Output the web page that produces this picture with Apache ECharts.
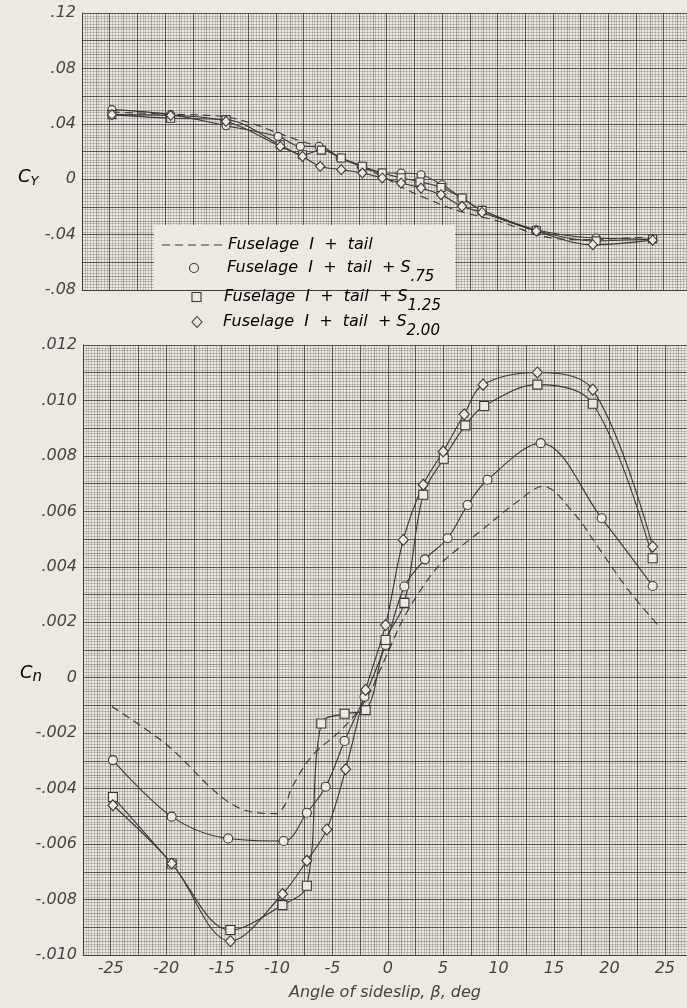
<!DOCTYPE html>
<html>
<head>
<meta charset="utf-8">
<script src="https://cdn.jsdelivr.net/npm/echarts@6/dist/echarts.min.js"></script>
<style>
  html, body { margin: 0; padding: 0; background: #ece9e0; }
  #chart { width: 687px; height: 1008px; }
</style>
</head>
<body>
<div id="chart"></div>
<script>
// Side-force coefficient C_Y against sideslip angle (upper panel)
const cyBetaTail   = [-24.8, -20, -14.8, -12.3, -10.2, -8.1, -6.3, -3.3, 0, 1.2, 3.6, 6.6, 10.2, 14.1, 17.4, 20.5, 23.5];
const cyTail       = [0.0485, 0.0470, 0.0453, 0.0406, 0.0345, 0.0285, 0.0237, 0.0129, 0.0005, -0.0052, -0.0140, -0.0232, -0.0305, -0.0413, -0.0437, -0.0430, -0.0417];
const cyBetaS75    = [-24.8, -19.5, -14.5, -9.8, -7.8, -6.1, -4.2, -2.3, -0.45, 1.3, 3.1, 5.0, 6.8, 8.6, 13.5, 18.9, 24];
const cyS75        = [0.0502, 0.0466, 0.0386, 0.0309, 0.0237, 0.0237, 0.0153, 0.0093, 0.0045, 0.0045, 0.0032, -0.0040, -0.0136, -0.0225, -0.0365, -0.0425, -0.0432];
const cyBetaS125   = [-24.8, -19.5, -14.5, -9.6, -7.6, -5.9, -4.1, -2.2, -0.4, 1.3, 3.0, 4.9, 6.8, 8.6, 13.5, 18.9, 24];
const cyS125       = [0.0466, 0.0440, 0.0430, 0.0249, 0.0177, 0.0210, 0.0153, 0.0093, 0.0045, 0.0010, -0.0020, -0.0060, -0.0136, -0.0225, -0.0370, -0.0445, -0.0432];
const cyBetaS200   = [-24.8, -19.5, -14.5, -9.6, -7.6, -6.0, -4.1, -2.2, -0.4, 1.3, 3.1, 4.9, 6.8, 8.6, 13.5, 18.6, 24];
const cyS200       = [0.0466, 0.0460, 0.0418, 0.0237, 0.0165, 0.0093, 0.0069, 0.0045, 0.0009, -0.0028, -0.0064, -0.0112, -0.0196, -0.0240, -0.0375, -0.0473, -0.0440];

// Yawing-moment coefficient C_n against sideslip angle (lower panel)
const cnBetaTail   = [-24.9, -20, -15, -12.3, -10.1, -9.2, -8.7, -6.9, -4, -2, 0, 1.5, 3.6, 5, 8.1, 11.7, 14, 16.8, 19, 21.7, 24.5];
const cnTail       = [-0.00104, -0.0024, -0.0043, -0.00484, -0.0049, -0.00453, -0.0040, -0.00285, -0.0018, -0.0008, 0.0009, 0.0022, 0.00353, 0.0042, 0.0052, 0.00635, 0.0069, 0.00593, 0.0047, 0.00317, 0.00184];
const cnBetaS75    = [-24.8, -19.5, -14.4, -9.4, -7.3, -5.6, -3.9, -2.1, -0.2, 1.5, 3.35, 5.4, 7.2, 9.0, 13.8, 19.3, 23.9];
const cnS75        = [-0.00297, -0.00501, -0.0058, -0.00589, -0.00487, -0.00393, -0.00228, -0.00069, 0.00118, 0.00329, 0.00427, 0.00503, 0.00623, 0.00714, 0.00846, 0.00575, 0.00331];
const cnBetaS125   = [-24.8, -19.5, -14.2, -9.5, -7.3, -6.0, -3.9, -2.0, -0.2, 1.5, 3.2, 5.05, 7.0, 8.7, 13.5, 18.5, 23.9];
const cnS125       = [-0.0043, -0.0067, -0.0091, -0.0082, -0.0075, -0.00165, -0.0013, -0.00117, 0.00136, 0.0027, 0.0066, 0.0079, 0.0091, 0.0098, 0.01057, 0.00988, 0.00431];
const cnBetaS200   = [-24.8, -19.5, -14.2, -9.5, -7.3, -5.5, -3.8, -2.0, -0.2, 1.4, 3.2, 5.0, 6.9, 8.6, 13.5, 18.5, 23.9];
const cnS200       = [-0.0046, -0.0067, -0.0095, -0.0078, -0.0066, -0.00547, -0.0033, -0.00044, 0.0019, 0.00497, 0.00696, 0.00816, 0.0095, 0.01057, 0.01101, 0.01039, 0.00473];

const legendNames = ['Fuselage  I  +  tail', 'Fuselage  I  +  tail  + S', 'Fuselage  I  +  tail  + S', 'Fuselage  I  +  tail  + S'];
const legendSubs  = ['', '.75', '1.25', '2.00'];
const xTitle = 'Angle of sideslip, \u03b2, deg';

const PAPER = '#ece9e0';
const INK = '#383838';
const TEXT = '#444444';
const FINE = 'rgba(95,95,88,0.30)';
const MED = 'rgba(70,70,65,0.42)';
const MAJOR = 'rgba(45,45,42,0.62)';
const FONT = '"DejaVu Sans", sans-serif';

const labelStyle = { fontFamily: FONT, fontStyle: 'italic', fontSize: 16, color: TEXT };

function fmtX(v) {
  const k = Math.round(v / 2.5);
  if (k % 2 !== 0 || Math.abs(v) > 25.01) return '';
  return String(Math.round(v));
}
function fmtCy(v) {
  const k = Math.round(v / 0.02);
  if (k % 2 !== 0) return '';
  if (k === 0) return '0';
  return (k < 0 ? '-' : '') + (Math.abs(k) * 0.02).toFixed(2).replace(/^0/, '');
}
function fmtCn(v) {
  const k = Math.round(v / 0.001);
  if (k % 2 !== 0) return '';
  if (k === 0) return '0';
  return (k < 0 ? '-' : '') + (Math.abs(k) / 1000).toFixed(3).replace(/^0/, '');
}

// Graph-paper rulings: one axis carries the medium and fine lines, a second the heavy lines.
function paperAxes(gridIndex, position, min, max, major, fmt, extra) {
  const fine = {
    type: 'value', gridIndex, position, min, max, interval: major / 2, z: 0,
    axisLine: { show: false }, axisTick: { show: false }, axisLabel: { show: false },
    splitLine: { show: true, lineStyle: { color: MED, width: 1 } },
    minorTick: { show: false, splitNumber: 5 },
    minorSplitLine: { show: true, lineStyle: { color: FINE, width: 1 } }
  };
  const heavy = Object.assign({
    type: 'value', gridIndex, position, min, max, interval: major, z: 1,
    axisLine: { show: true, onZero: false, lineStyle: { color: MAJOR, width: 1 } },
    axisTick: { show: false },
    axisLabel: fmt ? Object.assign({ show: true, formatter: fmt, margin: 6 }, labelStyle) : { show: false },
    splitLine: { show: true, lineStyle: { color: MAJOR, width: 1 } }
  }, extra || {});
  return [fine, heavy];
}

const xAxes = [
  ...paperAxes(0, 'bottom', -27.5, 27.1, 2.5, null),
  ...paperAxes(1, 'bottom', -27.5, 27.0, 2.5, fmtX, {
    name: xTitle, nameLocation: 'middle', nameGap: 30,
    nameTextStyle: { fontFamily: FONT, fontStyle: 'italic', fontSize: 16, color: TEXT }
  })
];
const yAxes = [
  ...paperAxes(0, 'left', -0.08, 0.12, 0.02, fmtCy),
  ...paperAxes(1, 'left', -0.010, 0.012, 0.001, fmtCn)
];

function curve(xs, ys, xi, yi, symbol, size, dashed) {
  return {
    type: 'line', xAxisIndex: xi, yAxisIndex: yi,
    data: xs.map((x, i) => [x, ys[i]]),
    smooth: 0.35,
    symbol: dashed ? 'none' : symbol,
    symbolSize: size,
    showSymbol: !dashed,
    lineStyle: { color: INK, width: 1.1, type: dashed ? [8, 5] : 'solid' },
    itemStyle: { color: PAPER, borderColor: INK, borderWidth: 1.1 },
    z: 3, silent: true, animation: false
  };
}

const series = [
  curve(cyBetaTail, cyTail, 1, 1, 'none', 0, true),
  curve(cyBetaS75, cyS75, 1, 1, 'circle', 8, false),
  curve(cyBetaS125, cyS125, 1, 1, 'rect', 8, false),
  curve(cyBetaS200, cyS200, 1, 1, 'diamond', [9, 10], false),
  curve(cnBetaTail, cnTail, 3, 3, 'none', 0, true),
  curve(cnBetaS75, cnS75, 3, 3, 'circle', 9, false),
  curve(cnBetaS125, cnS125, 3, 3, 'rect', 9, false),
  curve(cnBetaS200, cnS200, 3, 3, 'diamond', [10, 11], false)
];

const richMain = { fontFamily: FONT, fontStyle: 'italic', fontSize: 16, color: TEXT };
const richSub = { fontFamily: FONT, fontStyle: 'italic', fontSize: 15, color: TEXT, padding: [18, 0, 0, 0] };

const legendRows = [245, 268, 297, 322];
const legendTextX = [228, 227, 224, 223];
const graphic = [
  { type: 'rect', shape: { x: 154, y: 225, width: 301, height: 65 }, style: { fill: PAPER }, z: 10 },
  { type: 'line', shape: { x1: 162, y1: legendRows[0], x2: 226, y2: legendRows[0] },
    style: { stroke: INK, lineWidth: 1.1, lineDash: [8, 5] }, z: 11 },
  { type: 'circle', shape: { cx: 194, cy: legendRows[1], r: 4.5 }, style: { fill: PAPER, stroke: INK, lineWidth: 1.1 }, z: 11 },
  { type: 'rect', shape: { x: 192, y: legendRows[2] - 4.5, width: 9, height: 9 }, style: { fill: PAPER, stroke: INK, lineWidth: 1.1 }, z: 11 },
  { type: 'polygon', shape: { points: [[197, legendRows[3] - 5.5], [202, legendRows[3]], [197, legendRows[3] + 5.5], [192, legendRows[3]]] },
    style: { fill: PAPER, stroke: INK, lineWidth: 1.1 }, z: 11 },
  // axis symbols
  { type: 'text', left: 18, top: 168, z: 11,
    style: { text: '{c|C}{s|Y}', rich: { c: { fontFamily: FONT, fontStyle: 'italic', fontSize: 18, color: TEXT },
      s: { fontFamily: FONT, fontStyle: 'italic', fontSize: 13, color: TEXT, padding: [10, 0, 0, 0] } } } },
  { type: 'text', left: 20, top: 664, z: 11,
    style: { text: '{c|C}{s|n}', rich: { c: { fontFamily: FONT, fontStyle: 'italic', fontSize: 18, color: TEXT },
      s: { fontFamily: FONT, fontStyle: 'italic', fontSize: 15, color: TEXT, padding: [8, 0, 0, 0] } } } }
];
legendNames.forEach((name, i) => {
  graphic.push({
    type: 'text', x: legendTextX[i], y: legendRows[i], z: 11,
    style: {
      text: legendSubs[i] ? '{m|' + name + '}{s|' + legendSubs[i] + '}' : '{m|' + name + '}',
      rich: { m: richMain, s: richSub },
      verticalAlign: 'middle', align: 'left'
    }
  });
});

const chart = echarts.init(document.getElementById('chart'), null, { renderer: 'canvas' });
chart.setOption({
  backgroundColor: PAPER,
  animation: false,
  grid: [
    { left: 82, top: 13, width: 605, height: 277, outerBoundsMode: 'none' },
    { left: 83, top: 345, width: 604, height: 610, outerBoundsMode: 'none' }
  ],
  xAxis: xAxes,
  yAxis: yAxes,
  series,
  graphic
});
</script>
</body>
</html>
